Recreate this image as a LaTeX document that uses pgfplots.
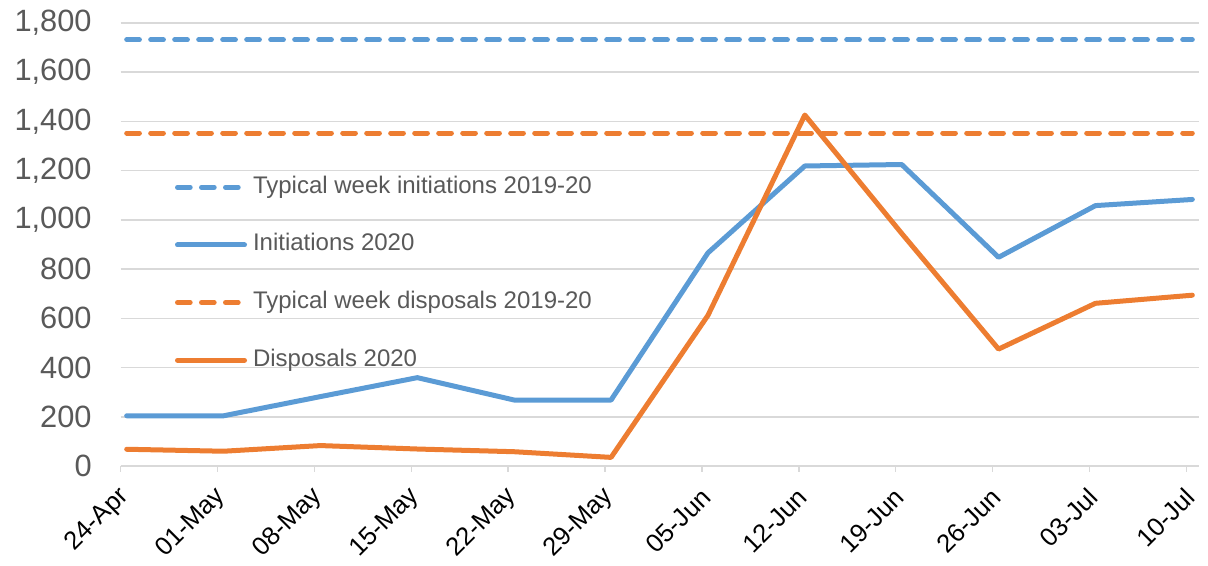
\documentclass[border=0pt]{standalone}
\usepackage{pgfplots}
\pgfplotsset{compat=1.18}
\usepackage{fontspec}
\setmainfont{Liberation Sans}
\definecolor{cblue}{HTML}{5B9BD5}
\definecolor{corange}{HTML}{ED7D31}
\definecolor{gridgray}{HTML}{D9D9D9}
\definecolor{txtgray}{HTML}{595959}
\begin{document}
\begin{tikzpicture}
\useasboundingbox (-60.35pt,-50pt) rectangle (543.65pt,233pt);
\begin{axis}[
  at={(0pt,0pt)}, anchor=south west,
  scale only axis, width=539pt, height=221.5pt,
  xmin=-0.062, xmax=11.066, ymin=0, ymax=1800,
  ytick={0,200,...,1800},
  xtick={-0.062,0.938,1.938,2.938,3.938,4.938,5.938,6.938,7.938,8.938,9.938,10.938},
  xticklabels={24-Apr,01-May,08-May,15-May,22-May,29-May,05-Jun,12-Jun,19-Jun,26-Jun,03-Jul,10-Jul},
  axis lines*=left,
  x axis line style={draw=gridgray, line width=0.75pt},
  y axis line style={draw=none},
  xtick align=outside,
  major tick length=3pt,
  xtick style={draw=gridgray, line width=0.75pt},
  ytick style={draw=none},
  ymajorgrids,
  grid style={draw=gridgray, line width=0.75pt},
  scaled y ticks=false,
  yticklabel style={font=\fontsize{15.4}{18}\selectfont, text=txtgray, xshift=-11pt},
  xticklabel style={xshift=4.5pt, yshift=-8pt, rotate=45, anchor=east, font=\fontsize{12.8}{15}\selectfont, text=black},
  /pgf/number format/.cd, 1000 sep={,}, assume math mode=true, /pgfplots/.cd,
  legend cell align=left,
  legend style={at={(0.05,0.657)}, anchor=north west, draw=none, fill=none, inner sep=0pt,
    row sep=16.8pt, column sep=3pt, font=\fontsize{12}{14}\selectfont, text=txtgray,
    nodes={inner sep=0pt, text height=9pt, text depth=3pt}},
  legend image code/.code={\draw[#1] (1.25pt,0pt) -- (34.75pt,0pt);},
  every axis plot/.append style={line width=2.5pt, line cap=round, line join=round},
]
\addplot[cblue, dash pattern=on 6.35pt off 5.65pt] coordinates {(0,1732) (11,1732)};
\addlegendentry{Typical week initiations 2019-20}
\addplot[cblue] coordinates {
(0,204) (1,204) (2,282) (3,359) (4,268) (5,268) (6,866) (7,1219) (8,1225) (9,848) (10,1058) (11,1083)};
\addlegendentry{Initiations 2020}
\addplot[corange, dash pattern=on 6.35pt off 5.65pt] coordinates {(0,1353) (11,1353)};
\addlegendentry{Typical week disposals 2019-20}
\addplot[corange] coordinates {
(0,68) (1,60) (2,83) (3,69) (4,58) (5,35) (6,612) (7,1426) (8,945) (9,475) (10,661) (11,694)};
\addlegendentry{Disposals 2020}
\end{axis}
\end{tikzpicture}
\end{document}
